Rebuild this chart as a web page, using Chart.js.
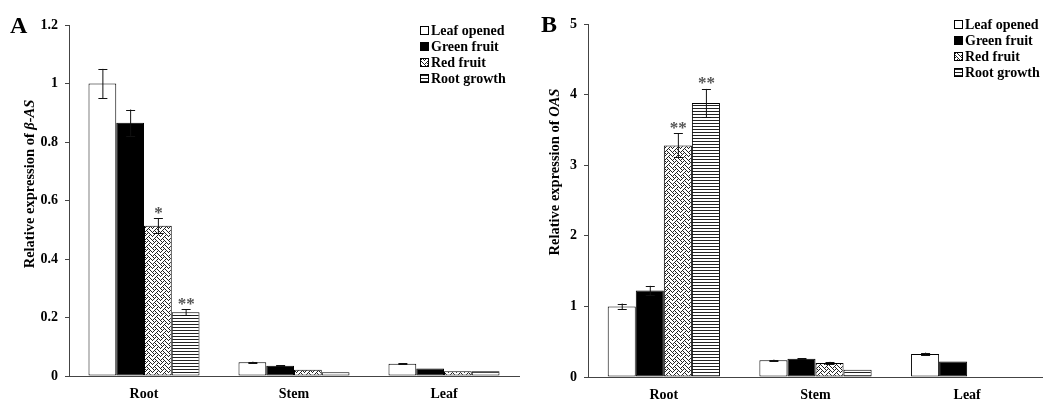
<!DOCTYPE html>
<html>
<head>
<meta charset="utf-8">
<script src="https://cdn.jsdelivr.net/npm/chart.js@4"></script>
<style>
    html, body { margin: 0; padding: 0; background: #fff; overflow: hidden; }
    #wrapA { position: absolute; left: 0; top: 0; width: 525px; height: 399px; }
    #wrapB { position: absolute; left: 520px; top: 0; width: 523px; height: 399px; }
</style>
</head>
<body>
<div id="wrapA"><canvas id="chartA" width="525" height="399"></canvas></div>
<div id="wrapB"><canvas id="chartB" width="523" height="399"></canvas></div>
<script>
// Data
const categories = ["Root", "Stem", "Leaf"];
const seriesNames = ["Leaf opened", "Green fruit", "Red fruit", "Root growth"];

// Panel A: beta-AS
const leafOpenedA = [1.0, 0.047, 0.042];
const greenFruitA = [0.866, 0.035, 0.026];
const redFruitA = [0.514, 0.021, 0.016];
const rootGrowthA = [0.218, 0.013, 0.016];
const leafOpenedErrA = [0.05, 0.002, 0.002];
const greenFruitErrA = [0.045, 0.002, 0];
const redFruitErrA = [0.025, 0, 0];
const rootGrowthErrA = [0.01, 0, 0];
const redFruitSigA = ["*", "", ""];
const rootGrowthSigA = ["**", "", ""];
const yTicksA = { min: 0, max: 1.2, step: 0.2 };

// Panel B: OAS
const leafOpenedB = [1.0, 0.236, 0.325];
const greenFruitB = [1.226, 0.259, 0.22];
const redFruitB = [3.28, 0.2, 0];
const rootGrowthB = [3.88, 0.103, 0];
const leafOpenedErrB = [0.04, 0.01, 0.02];
const greenFruitErrB = [0.065, 0.01, 0];
const redFruitErrB = [0.17, 0.015, 0];
const rootGrowthErrB = [0.2, 0, 0];
const redFruitSigB = ["**", "", ""];
const rootGrowthSigB = ["**", "", ""];
const yTicksB = { min: 0, max: 5, step: 1 };

const SERIF = "'Liberation Serif', 'Times New Roman', serif";

// fill patterns
function weavePattern() {
    // 8x8 weave hatch, one byte per row
    const rows = [0x88, 0x54, 0x22, 0x45, 0x88, 0x14, 0x22, 0x51];
    const c = document.createElement("canvas");
    c.width = 8; c.height = 8;
    const g = c.getContext("2d");
    g.fillStyle = "#fff";
    g.fillRect(0, 0, 8, 8);
    g.fillStyle = "#222";
    rows.forEach((bits, y) => {
        for (let x = 0; x < 8; x++) {
            if (bits & (0x80 >> x)) g.fillRect(x, y, 1, 1);
        }
    });
    return g.createPattern(c, "repeat");
}

function stripePattern() {
    const c = document.createElement("canvas");
    c.width = 4; c.height = 3;
    const g = c.getContext("2d");
    g.fillStyle = "#fff";
    g.fillRect(0, 0, 4, 3);
    g.fillStyle = "#222";
    g.fillRect(0, 0, 4, 1);
    return g.createPattern(c, "repeat");
}

const fills = ["#ffffff", "#000000", weavePattern(), stripePattern()];

// error bars + significance marks
const errorBarPlugin = {
    id: "errorBars",
    afterDatasetsDraw(chart) {
        const ctx = chart.ctx;
        const yScale = chart.scales.y;
        ctx.save();
        chart.data.datasets.forEach((ds, i) => {
            const meta = chart.getDatasetMeta(i);
            meta.data.forEach((bar, j) => {
                const v = ds.data[j];
                const e = ds.errors[j];
                const top = yScale.getPixelForValue(v + e);
                if (e > 0) {
                    const bot = yScale.getPixelForValue(v - e);
                    ctx.strokeStyle = "#111";
                    ctx.lineWidth = 1;
                    ctx.beginPath();
                    ctx.moveTo(bar.x + 0.5, top);
                    ctx.lineTo(bar.x + 0.5, bot);
                    ctx.moveTo(bar.x - 4, Math.round(top) + 0.5);
                    ctx.lineTo(bar.x + 5, Math.round(top) + 0.5);
                    ctx.moveTo(bar.x - 4, Math.round(bot) + 0.5);
                    ctx.lineTo(bar.x + 5, Math.round(bot) + 0.5);
                    ctx.stroke();
                }
                const s = ds.sig ? ds.sig[j] : "";
                if (s) {
                    ctx.fillStyle = "#555";
                    ctx.font = "bold 17px " + SERIF;
                    ctx.textAlign = "center";
                    ctx.textBaseline = "middle";
                    ctx.fillText(s, bar.x + 0.5, top - 5);
                }
            });
        });
        ctx.restore();
    }
};

// panel letter, rotated y title with italic gene name, boxed legend
const decorPlugin = {
    id: "decor",
    afterDraw(chart, args, opts) {
        const ctx = chart.ctx;
        ctx.save();
        ctx.fillStyle = "#000";
        ctx.font = "bold 24px " + SERIF;
        ctx.textAlign = "left";
        ctx.textBaseline = "middle";
        ctx.fillText(opts.letter, opts.letterX, opts.letterY);

        // y title
        const parts = [
            { t: "Relative expression of ", f: "bold 14.5px " + SERIF },
            { t: opts.gene, f: "italic bold 14.5px " + SERIF }
        ];
        let total = 0;
        parts.forEach(p => { ctx.font = p.f; p.w = ctx.measureText(p.t).width; total += p.w; });
        ctx.translate(opts.titleX, opts.titleY);
        ctx.rotate(-Math.PI / 2);
        let x = -total / 2;
        parts.forEach(p => {
            ctx.font = p.f;
            ctx.fillText(p.t, x, 0);
            x += p.w;
        });
        ctx.setTransform(1, 0, 0, 1, 0, 0);

        // legend
        ctx.font = "bold 14px " + SERIF;
        chart.data.datasets.forEach((ds, i) => {
            const y = opts.legendY + i * 16;
            ctx.fillStyle = ds.backgroundColor;
            ctx.fillRect(opts.legendX, y - 4, 9, 9);
            ctx.strokeStyle = "#000";
            ctx.lineWidth = 1;
            ctx.strokeRect(opts.legendX + 0.5, y - 3.5, 8, 8);
            ctx.fillStyle = "#000";
            ctx.fillText(ds.label, opts.legendX + 11, y + 1);
        });
        ctx.restore();
    }
};

function makeDatasets(values, errors, sigs) {
    return seriesNames.map((name, i) => ({
        label: name,
        data: values[i],
        errors: errors[i],
        sig: sigs[i],
        backgroundColor: fills[i],
        borderColor: "#000",
        borderWidth: 1,
        borderSkipped: false,
        categoryPercentage: 0.74,
        barPercentage: 1.0
    }));
}

function makeChart(id, datasets, ticks, yWidth, padRight, decor) {
    const tickFont = { family: SERIF, weight: "bold", size: 14 };
    return new Chart(document.getElementById(id), {
        type: "bar",
        data: { labels: categories, datasets: datasets },
        plugins: [errorBarPlugin, decorPlugin],
        options: {
            responsive: false,
            animation: false,
            devicePixelRatio: 1,
            layout: { padding: { left: 0, right: padRight, top: decor.top, bottom: 0 } },
            plugins: {
                legend: { display: false },
                tooltip: { enabled: false },
                decor: decor
            },
            scales: {
                x: {
                    grid: { display: false },
                    border: { display: true, color: "#444", width: 1 },
                    ticks: { color: "#000", font: tickFont, padding: 2 },
                    afterFit: s => { s.height = 399 - decor.bottom; }
                },
                y: {
                    min: ticks.min,
                    max: ticks.max,
                    grid: { drawOnChartArea: false, color: "#444", tickLength: 4 },
                    border: { display: true, color: "#444", width: 1 },
                    ticks: {
                        stepSize: ticks.step, color: "#000", font: tickFont, padding: 7,
                        callback: v => String(Number(v.toFixed(1)))
                    },
                    afterFit: s => { s.width = yWidth; }
                }
            }
        }
    });
}

makeChart("chartA",
    makeDatasets(
        [leafOpenedA, greenFruitA, redFruitA, rootGrowthA],
        [leafOpenedErrA, greenFruitErrA, redFruitErrA, rootGrowthErrA],
        [null, null, redFruitSigA, rootGrowthSigA]),
    yTicksA, 69, 6,
    { letter: "A", letterX: 10, letterY: 27, gene: "\u03b2-AS", titleX: 30, titleY: 184,
      legendX: 420, legendY: 30, top: 25, bottom: 376 });

makeChart("chartB",
    makeDatasets(
        [leafOpenedB, greenFruitB, redFruitB, rootGrowthB],
        [leafOpenedErrB, greenFruitErrB, redFruitErrB, rootGrowthErrB],
        [null, null, redFruitSigB, rootGrowthSigB]),
    yTicksB, 68, 0,
    { letter: "B", letterX: 21, letterY: 26, gene: "OAS", titleX: 35, titleY: 172,
      legendX: 434, legendY: 24, top: 24, bottom: 377 });
</script>
</body>
</html>
